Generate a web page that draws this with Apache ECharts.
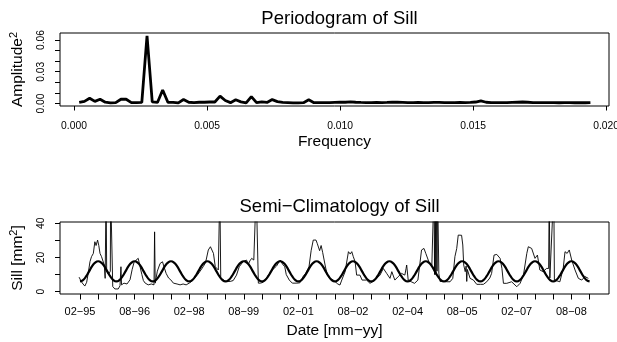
<!DOCTYPE html>
<html>
<head>
<meta charset="utf-8">
<script src="https://cdn.jsdelivr.net/npm/echarts@6/dist/echarts.min.js"></script>
<style>
  html, body { margin: 0; padding: 0; background: #fff; }
  #chart { width: 617px; height: 342px; }
</style>
</head>
<body>
<div id="chart"></div>
<script>
// periodogram, amplitude^2 at the Fourier frequencies k / nDays (k = 1..99)
const nDays = 5100;
const periodogramAmp = [
  0.0010, 0.0020, 0.0050, 0.0020, 0.0040, 0.0012, 0.0006, 0.0008, 0.0040, 0.0040,
  0.0008, 0.0008, 0.0010, 0.0640, 0.0015, 0.0010, 0.0127, 0.0012, 0.0010, 0.0006,
  0.0038, 0.0012, 0.0008, 0.0012, 0.0012, 0.0014, 0.0014, 0.0070, 0.0028, 0.0008,
  0.0035, 0.0015, 0.0006, 0.0065, 0.0008, 0.0015, 0.0010, 0.0037, 0.0018, 0.0010,
  0.0008, 0.0006, 0.0006, 0.0008, 0.0035, 0.0008, 0.0008, 0.0009, 0.0008, 0.0010,
  0.0012, 0.0012, 0.0015, 0.0012, 0.0010, 0.0009, 0.0008, 0.0010, 0.0009, 0.0010,
  0.0012, 0.0013, 0.0011, 0.0009, 0.0008, 0.0010, 0.0009, 0.0008, 0.0010, 0.0011,
  0.0009, 0.0008, 0.0009, 0.0010, 0.0009, 0.0010, 0.0014, 0.0025, 0.0012, 0.0009,
  0.0008, 0.0009, 0.0008, 0.0010, 0.0012, 0.0014, 0.0012, 0.0009, 0.0008, 0.0008,
  0.0009, 0.0008, 0.0007, 0.0008, 0.0008, 0.0007, 0.0008, 0.0007, 0.0008
];
const freqTicks = [0, 0.005, 0.01, 0.015, 0.02];
const ampTicks = [0, 0.01, 0.02, 0.03, 0.04, 0.05, 0.06];
const ampLabels = [0, 0.03, 0.06];

// sill [mm^2], x = months since 02-95
const sillObs = [
  [-0.3, 8.5], [0.4, 6], [1.0, 4.5], [1.6, 3.3], [2.2, 5.5], [2.7, 10.7], [3.3, 17.6], [3.8, 20.5],
  [4.4, 22.4], [4.9, 29.2], [5.3, 27], [5.8, 30.2], [6.2, 27], [6.6, 22.4], [7.1, 20.5], [7.6, 21.5],
  [8.0, 15.6], [8.3, 7.8], [8.6, 60], [8.8, 12], [9.4, 10], [10.0, 12], [10.1, 60], [10.7, 60],
  [10.8, 3], [11.5, 1.6], [12.6, 1.6], [13.2, 3.5], [13.5, 14.6], [13.7, 4], [14.5, 5], [15.5, 4.5],
  [16.5, 7], [17.2, 13], [17.8, 17], [18.5, 18.5], [19.2, 19.5], [19.8, 14.6], [20.4, 10], [20.9, 6.5],
  [21.5, 5], [22.5, 4], [23.5, 4.5], [24.4, 4], [24.6, 35], [24.8, 5], [25.5, 12], [26.4, 16.5],
  [27.2, 17.5], [27.8, 14], [28.4, 10.7], [29.2, 8], [29.9, 7], [30.8, 5], [32, 4.5], [33, 4],
  [34, 4.5], [35, 4], [36, 5], [36.8, 6], [37.8, 8], [38.8, 10], [39.6, 12], [40.6, 14.6],
  [41.4, 17], [41.8, 17.6], [42.3, 24.4], [43.0, 26.3], [43.5, 25.3], [44.0, 22.4], [44.6, 14.6], [45.6, 12.7],
  [46.1, 60], [46.3, 60], [46.4, 8], [47.0, 7], [48, 6], [49.5, 6], [50.5, 6.5], [51.6, 9.7],
  [52.5, 14.6], [53.8, 17.6], [54.9, 18.5], [55.5, 16], [56.0, 18], [56.6, 19.5], [57.3, 18.5], [57.9, 19],
  [58.1, 60], [58.7, 60], [58.8, 5], [59.5, 5], [60.4, 5.5], [61.5, 8], [63, 12], [64.8, 15],
  [66, 18.5], [66.8, 16], [67.5, 14.6], [68, 10], [69, 6.8], [70, 5], [71.5, 5], [72.5, 5.2],
  [73.5, 8.8], [74.5, 11], [75.5, 14.6], [76.2, 24], [76.9, 30.2], [77.5, 29.5], [77.8, 30.2], [78.2, 28.3],
  [79, 24], [79.5, 27], [80, 23], [80.8, 15.6], [81.5, 9.7], [82.4, 7.8], [83.5, 6.8], [84, 5.8],
  [85, 4.5], [85.7, 3.9], [86.3, 6.8], [87.4, 11.7], [88.5, 23.4], [89.1, 22], [89.6, 23.4], [90.1, 20.5],
  [90.7, 17.5], [91.2, 9.7], [92.3, 9.7], [93, 6.8], [94.5, 6.8], [95.6, 4.9], [96.2, 3.9], [97.3, 6.8],
  [98.9, 9.7], [100, 13.6], [101.1, 10.7], [101.6, 9.7], [102.2, 7.8], [102.8, 11.7], [103.8, 6.8], [104.9, 8.8],
  [106, 10.7], [107.1, 9.7], [107.5, 13.6], [107.7, 15.6], [108.2, 6.8], [109.2, 5.8], [110.3, 4.9], [111.4, 6.8],
  [112, 15.6], [112.6, 24.4], [113.4, 25.3], [114, 22.4], [114.5, 23.4], [115.2, 16.6], [116, 15.6], [116.7, 60],
  [116.9, 10], [117.1, 60], [117.3, 10], [117.5, 60], [117.7, 12], [117.9, 60], [118.1, 60], [118.3, 10.7],
  [118.7, 6], [120, 6], [121, 5.8], [122, 5.8], [122.9, 7.8], [123.6, 20.5], [124.2, 25.3], [124.7, 33.1],
  [125.3, 34.1], [125.8, 33], [126.2, 27.3], [126.5, 15.6], [127, 11.7], [127.3, 15], [127.5, 6], [127.7, 13],
  [128.6, 7.8], [129.7, 6.8], [130.8, 4.3], [132, 4.3], [133, 4.3], [134.1, 5.8], [135.1, 8], [135.7, 10.7],
  [136.5, 21.4], [137.4, 21.8], [138.5, 19.5], [139.1, 13.6], [139.6, 4.9], [140.7, 4.9], [142.3, 5.8], [144, 2.9],
  [145.1, 4.9], [146.2, 9.7], [147.3, 22.4], [147.8, 26.3], [148.9, 25.3], [150, 19.5], [150.8, 21.4], [151.6, 12.7],
  [152.7, 11.7], [153.8, 13.6], [154.5, 13.6], [154.7, 60], [154.9, 8], [155.5, 8], [156.2, 60], [156.4, 6.8],
  [158.2, 5.8], [159.3, 13.6], [159.9, 23.4], [160.6, 22.4], [161.3, 24.4], [162.1, 18.5], [163.2, 12.7], [164.3, 7.8],
  [165.4, 6.8], [166.5, 8.8], [167.6, 7.8]
];
// semi-climatology, Jan..Dec
const climByMonth = [6.8, 6.0, 6.8, 8.9, 11.9, 14.9, 17.0, 17.8, 17.0, 14.9, 11.9, 8.9];
const climSpan = 168; // months covered, from 02-95

const dateTicks = [0, 6, 12, 18, 24, 30, 36, 42, 48, 54, 60, 66, 72, 78, 84, 90, 96, 102, 108, 114,
  120, 126, 132, 138, 144, 150, 156, 162, 168];
const dateLabelMonths = [0, 18, 36, 54, 72, 90, 108, 126, 144, 162];
const dateLabels = ['02\u221295', '08\u221296', '02\u221298', '08\u221299', '02\u221201',
  '08\u221202', '02\u221204', '08\u221205', '02\u221207', '08\u221208'];
const sillTicks = [0, 10, 20, 30, 40];
const sillLabels = [0, 20, 40];

const FONT = '"Liberation Sans", Arial, Helvetica, sans-serif';

const periodogramData = periodogramAmp.map((a, i) => [(i + 1) / nDays, a]);
const climData = [];
for (let m = 0; m <= climSpan; m++) {
  climData.push([m, climByMonth[(m + 1) % 12]]);
}

const chart = echarts.init(document.getElementById('chart'));

const axisText = { color: '#000', fontFamily: FONT };
const blackLine = { lineStyle: { color: '#000', width: 1 } };
// axis title with a raised "2"
const supRich = {
  b: { fontSize: 15.5, lineHeight: 20, color: '#000', fontFamily: FONT },
  s: { fontSize: 11, verticalAlign: 'top', color: '#000', fontFamily: FONT }
};

chart.setOption({
  animation: false,
  backgroundColor: '#fff',
  textStyle: { fontFamily: FONT, color: '#000' },
  title: [
    {
      text: 'Periodogram of Sill', left: 334.5, top: 4, textAlign: 'center',
      textStyle: { fontSize: 18.5, fontWeight: 'normal', color: '#000', fontFamily: FONT }
    },
    {
      text: 'Semi\u2212Climatology of Sill', left: 334.5, top: 192.5, textAlign: 'center',
      textStyle: { fontSize: 18.5, fontWeight: 'normal', color: '#000', fontFamily: FONT }
    }
  ],
  grid: [
    { left: 60, top: 33, width: 549, height: 73, show: true, borderColor: '#000', borderWidth: 1, containLabel: false, outerBoundsMode: 'none' },
    { left: 60, top: 222, width: 549, height: 72, show: true, borderColor: '#000', borderWidth: 1, containLabel: false, outerBoundsMode: 'none' }
  ],
  xAxis: [
    {
      type: 'value', gridIndex: 0, min: -0.000526, max: 0.02011, position: 'bottom',
      axisLine: { show: false, onZero: false },
      axisTick: { show: true, length: 4.5, customValues: freqTicks, ...blackLine },
      axisLabel: {
        customValues: freqTicks, formatter: v => v.toFixed(3),
        fontSize: 10.3, margin: 15, ...axisText
      },
      splitLine: { show: false },
      name: 'Frequency', nameLocation: 'middle', nameGap: 28,
      nameTextStyle: { fontSize: 15.5, ...axisText }
    },
    {
      type: 'value', gridIndex: 1, min: -6.59, max: 174.4, position: 'bottom',
      axisLine: { show: false, onZero: false },
      axisTick: { show: true, length: 5.5, customValues: dateTicks, ...blackLine },
      axisLabel: {
        customValues: dateLabelMonths,
        formatter: v => dateLabels[dateLabelMonths.indexOf(v)],
        fontSize: 11, margin: 12, ...axisText
      },
      splitLine: { show: false },
      name: 'Date [mm\u2212yy]', nameLocation: 'middle', nameGap: 28.5,
      nameTextStyle: { fontSize: 15.5, ...axisText }
    }
  ],
  yAxis: [
    {
      type: 'value', gridIndex: 0, min: -0.00236, max: 0.0666, position: 'left',
      axisLine: { show: false, onZero: false },
      axisTick: { show: true, length: 5, customValues: ampTicks, ...blackLine },
      axisLabel: {
        customValues: ampLabels, formatter: v => v.toFixed(2), rotate: 90,
        fontSize: 10.3, margin: 13.5, ...axisText
      },
      splitLine: { show: false },
      name: '{b|Amplitude}{s|2}', nameLocation: 'middle', nameRotate: 90, nameGap: 32,
      nameTextStyle: { rich: supRich, ...axisText }
    },
    {
      type: 'value', gridIndex: 1, min: -1.35, max: 40.76, position: 'left',
      axisLine: { show: false, onZero: false },
      axisTick: { show: true, length: 5, customValues: sillTicks, ...blackLine },
      axisLabel: {
        customValues: sillLabels, rotate: 90,
        fontSize: 10.3, margin: 13.5, ...axisText
      },
      splitLine: { show: false },
      name: '{b|Sill [mm}{s|2}{b|]}', nameLocation: 'middle', nameRotate: 90, nameGap: 32,
      nameTextStyle: { rich: supRich, ...axisText }
    }
  ],
  series: [
    {
      type: 'line', xAxisIndex: 0, yAxisIndex: 0, data: periodogramData,
      showSymbol: false, lineStyle: { color: '#000', width: 2.8 }, clip: true
    },
    {
      type: 'line', xAxisIndex: 1, yAxisIndex: 1, data: sillObs,
      showSymbol: false, lineStyle: { color: '#000', width: 0.9 }, clip: true
    },
    {
      type: 'line', xAxisIndex: 1, yAxisIndex: 1, data: climData, smooth: true,
      showSymbol: false, lineStyle: { color: '#000', width: 2.2 }, clip: true
    }
  ]
});
</script>
</body>
</html>
